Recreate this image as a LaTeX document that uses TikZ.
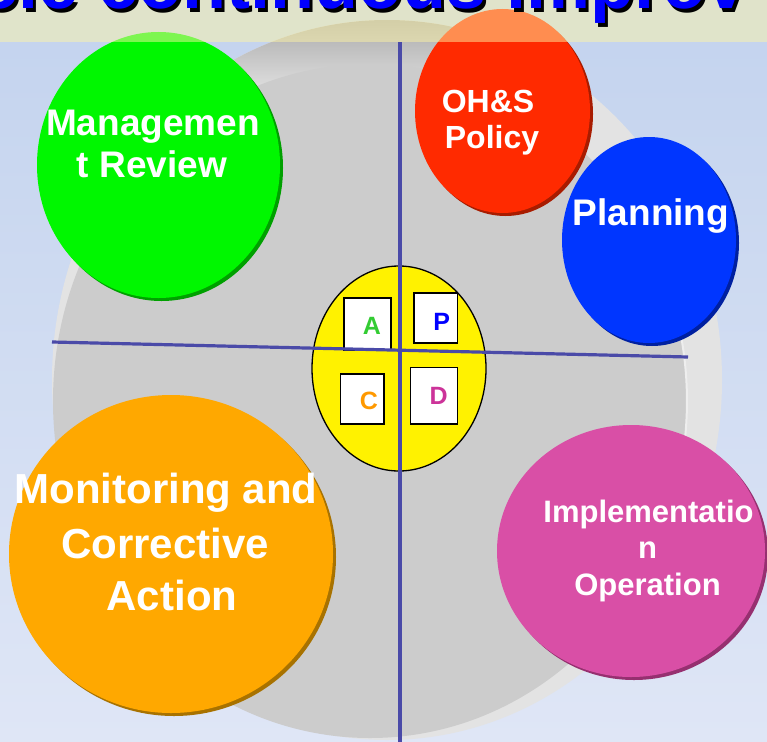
\documentclass[tikz,border=0pt]{standalone}
\usepackage{fontspec}
\setmainfont{Liberation Sans}
\definecolor{bgtop}{HTML}{C3D3EE}
\definecolor{bgbot}{HTML}{DFE6F6}
\definecolor{rim}{HTML}{E3E3E3}
\definecolor{rimdark}{HTML}{A9A9A9}
\definecolor{face}{HTML}{CCCCCC}
\definecolor{facehi}{HTML}{EEEEEE}
\definecolor{band}{HTML}{FFF5A5}
\definecolor{axiscol}{HTML}{4A4AA8}
\definecolor{cgreen}{HTML}{00F700}
\definecolor{sgreen}{HTML}{00A000}
\definecolor{cred}{HTML}{FF2A00}
\definecolor{sred}{HTML}{A81C00}
\definecolor{cblue}{HTML}{0036FF}
\definecolor{sblue}{HTML}{0020A0}
\definecolor{corange}{HTML}{FFA800}
\definecolor{sorange}{HTML}{A87200}
\definecolor{cpink}{HTML}{D94FA6}
\definecolor{spink}{HTML}{963070}
\definecolor{lA}{HTML}{33CC33}
\definecolor{lP}{HTML}{0000FF}
\definecolor{lC}{HTML}{FF9900}
\definecolor{lD}{HTML}{CC3399}
\definecolor{titleblue}{HTML}{0000FF}
\begin{document}
\begin{tikzpicture}[x=1pt,y=-1pt,
  word/.style={text=white,anchor=base,inner sep=0pt},
  letterbox/.style={draw=black,fill=white,line width=1.3pt},
  letter/.style={anchor=base,inner sep=0pt,font=\fontsize{25}{25}\selectfont\bfseries},
  axisline/.style={draw=axiscol,line width=3.2pt},
  titletext/.style={anchor=base west,inner sep=0pt,font=\fontsize{72}{72}\selectfont\bfseries}]
\useasboundingbox (0,0) rectangle (767,741);
\clip (0,0) rectangle (767,741);
% background
\shade[top color=bgtop,bottom color=bgbot] (0,0) rectangle (767,741);
% disc
\fill[rim] (387,380) ellipse [x radius=335pt, y radius=360pt];
\begin{scope}
  \clip (387,380) ellipse [x radius=335pt, y radius=360pt];
  \shade[top color=rimdark,bottom color=rim] (0,18) rectangle (767,95);
\end{scope}
\fill[face] (370,401) ellipse [x radius=317pt, y radius=337pt];
\draw[facehi,line width=2pt] (612.8,617.6) arc[start angle=-40,end angle=45,x radius=317pt,y radius=337pt];
% centre
\filldraw[fill=yellow,draw=black,line width=1.3pt] (399,368.5) ellipse [x radius=87pt, y radius=102.5pt];
\draw[letterbox] (344,298) rectangle (391,350);
\draw[letterbox] (414,293) rectangle (457.5,343);
\draw[letterbox] (340.5,374) rectangle (384,424);
\draw[letterbox] (410.5,367.5) rectangle (457.5,424);
\node[letter,text=lA] (la) at (372,334) {A};
\node[letter,text=lP] (lp) at (441.7,330) {P};
\node[letter,text=lC] (lc) at (369,409.5) {C};
\node[letter,text=lD] (ld) at (438.7,404) {D};
% axes
\coordinate (hl) at (52,342);
\coordinate (hr) at (688,357);
\coordinate (vt) at (400,42.5);
\coordinate (vb) at (400,745);
\draw[axisline] (hl) -- (hr);
\draw[axisline] (vt) -- (vb);
% circles
\fill[sgreen] (161.5,168) ellipse [x radius=121.5pt, y radius=133pt];
\fill[cgreen] (158.5,165) ellipse [x radius=121.5pt, y radius=133pt];
\fill[sred] (505.5,114) ellipse [x radius=87.5pt, y radius=102pt];
\fill[cred] (502.5,111) ellipse [x radius=87.5pt, y radius=102pt];
\fill[sblue] (652,243) ellipse [x radius=87pt, y radius=103pt];
\fill[cblue] (649,240) ellipse [x radius=87pt, y radius=103pt];
\fill[sorange] (174,557) ellipse [x radius=162pt, y radius=159pt];
\fill[corange] (171,554) ellipse [x radius=162pt, y radius=159pt];
\fill[spink] (634,554) ellipse [x radius=134pt, y radius=126pt];
\fill[cpink] (631,551) ellipse [x radius=134pt, y radius=126pt];
% labels
\node[word,font=\fontsize{37}{37}\selectfont\bfseries] (m1) at (153,135) {Managemen};
\node[word,font=\fontsize{37}{37}\selectfont\bfseries] (m2) at (152,177) {t Review};
\node[word,font=\fontsize{32}{32}\selectfont\bfseries] (o1) at (488,112) {OH\&S};
\node[word,font=\fontsize{32}{32}\selectfont\bfseries] (o2) at (492,148) {Policy};
\node[word,font=\fontsize{37}{37}\selectfont\bfseries] (pl) at (651,225) {Planning};
\node[word,font=\fontsize{42}{42}\selectfont\bfseries] (c1) at (166,503) {Monitoring and};
\node[word,font=\fontsize{42}{42}\selectfont\bfseries] (c2) at (165,558) {Corrective};
\node[word,font=\fontsize{42}{42}\selectfont\bfseries] (c3) at (172,610) {Action};
\node[word,font=\fontsize{31}{31}\selectfont\bfseries] (i1) at (648.5,522) {Implementatio};
\node[word,font=\fontsize{31}{31}\selectfont\bfseries] (i2) at (647.5,558) {n};
\node[word,font=\fontsize{31}{31}\selectfont\bfseries] (i3) at (647.5,595) {Operation};
% title band
\fill[band,fill opacity=0.49] (0,0) rectangle (767,42.5);
\node[titletext,text=black] (ts) at (-19,12.5) {cle continuous improv};
\node[titletext,text=titleblue] (tt) at (-22,9) {cle continuous improv};
\end{tikzpicture}
\end{document}
